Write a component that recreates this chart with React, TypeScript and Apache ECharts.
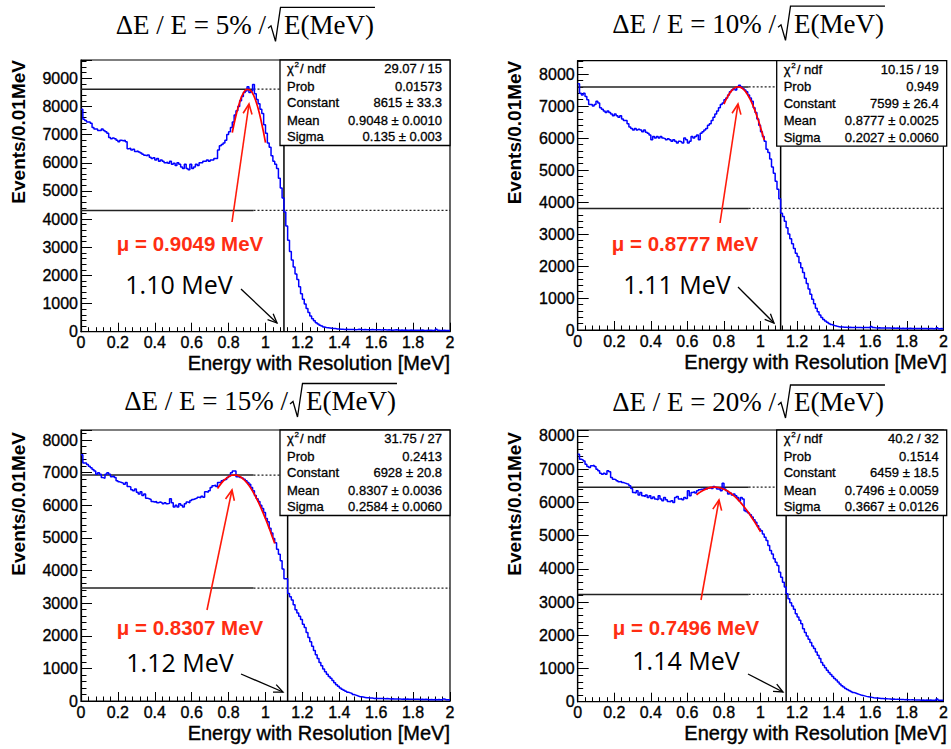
import React, { useEffect, useRef } from "react";
import * as echarts from "echarts";

const binWidth = 0.01;

// Histogram contents, 200 bins of 0.01 MeV from 0 to 2 MeV
const hist5 = [
  7900, 7550, 7500, 7450, 7450, 7400, 7250, 7200, 7200, 7150,
  7150, 7200, 7150, 7100, 7050, 6900, 6850, 6880, 6850, 6800,
  6750, 6800, 6780, 6800, 6750, 6500, 6520, 6450, 6480, 6400,
  6420, 6380, 6350, 6300, 6270, 6250, 6280, 6200, 6150, 6180,
  6100, 6150, 6050, 6100, 6050, 6000, 6020, 5980, 6050, 5950,
  5980, 5900, 6000, 5950, 5850, 5800, 5950, 5800, 5750, 5950,
  5800, 5850, 5950, 5900, 6000, 6000, 6050, 6050, 6100, 6050,
  6100, 6100, 6150, 6150, 6450, 6600, 6650, 6700, 6800, 7000,
  7100, 7250, 7450, 7700, 7850, 8000, 8200, 8350, 8500, 8550,
  8700, 8500, 8550, 8780, 8450, 8250, 8100, 7900, 7750, 7350,
  7050, 6700, 6550, 6250, 6050, 5950, 5800, 5450, 5100, 4750,
  4250, 3750, 3250, 2850, 2550, 2300, 2050, 1850, 1600, 1350,
  1150, 980, 820, 680, 560, 460, 390, 320, 270, 230,
  200, 170, 150, 140, 130, 120, 115, 110, 100, 95,
  90, 85, 80, 85, 80, 75, 80, 75, 70, 75,
  90, 80, 70, 75, 70, 65, 70, 75, 70, 65,
  70, 65, 60, 65, 70, 60, 65, 60, 55, 60,
  65, 60, 55, 60, 55, 60, 50, 55, 60, 55,
  50, 55, 50, 55, 60, 50, 45, 50, 55, 50,
  45, 50, 90, 50, 45, 40, 50, 45, 40, 45,
];
const hist10 = [
  7700, 7400, 7350, 7400, 7300, 7200, 7050, 7050, 7000, 7050,
  7150, 7100, 6950, 6900, 6850, 6800, 6850, 6800, 6750, 6700,
  6750, 6700, 6650, 6700, 6600, 6550, 6550, 6450, 6350, 6300,
  6250, 6300, 6250, 6280, 6250, 6200, 6250, 6180, 6150, 6100,
  5950, 6050, 6000, 6050, 6000, 6050, 6000, 5980, 5950, 5980,
  5950, 5900, 5950, 5900, 5850, 5900, 5880, 5850, 6000, 5950,
  5850, 5900, 6050, 6000, 6050, 6100, 5950, 6150, 6200, 6250,
  6300, 6400, 6450, 6550, 6650, 6750, 6850, 6950, 7050, 7100,
  7200, 7250, 7350, 7450, 7500, 7550, 7500, 7600, 7650, 7600,
  7550, 7500, 7450, 7350, 7250, 7150, 6950, 6800, 6600, 6400,
  6200, 6050, 5900, 5650, 5550, 5350, 5100, 4900, 4650, 4400,
  4100, 3650, 3550, 3400, 3200, 3000, 2850, 2700, 2550, 2400,
  2300, 2100, 1950, 1800, 1620, 1450, 1280, 1120, 960, 820,
  680, 570, 470, 390, 330, 280, 240, 200, 170, 150,
  130, 115, 105, 95, 90, 85, 85, 80, 85, 80,
  75, 80, 75, 80, 75, 70, 75, 80, 75, 70,
  110, 80, 70, 65, 70, 65, 60, 65, 60, 65,
  60, 55, 60, 55, 60, 55, 50, 55, 50, 55,
  50, 55, 50, 45, 50, 45, 50, 45, 50, 45,
  45, 40, 50, 45, 40, 45, 70, 40, 45, 40,
];
const hist15 = [
  7550, 7300, 7300, 7250, 7200, 7150, 7100, 7050, 6950, 7000,
  6950, 6850, 6830, 6950, 7000, 6950, 6880, 6900, 6850, 6750,
  6720, 6700, 6680, 6650, 6700, 6580, 6560, 6480, 6450, 6500,
  6400, 6350, 6420, 6300, 6350, 6220, 6200, 6180, 6120, 6100,
  6120, 6080, 6100, 6080, 6050, 6080, 6050, 6060, 6200, 6080,
  5950, 6000, 5950, 6050, 6000, 5950, 6050, 6100, 6080, 6150,
  6180, 6200, 6220, 6250, 6230, 6280, 6250, 6420, 6400, 6450,
  6550, 6600, 6620, 6580, 6700, 6700, 6750, 6780, 6800, 6850,
  6900, 7000, 7050, 7050, 6880, 6880, 6850, 6830, 6800, 6750,
  6700, 6650, 6550, 6450, 6300, 6200, 6120, 6000, 5900, 5780,
  5600, 5500, 5300, 5150, 4980, 4850, 4650, 4500, 4300, 4050,
  3750, 3750, 3300, 3200, 3100, 2950, 2800, 2700, 2600, 2500,
  2350, 2250, 2100, 1950, 1820, 1680, 1550, 1420, 1300, 1180,
  1080, 980, 900, 820, 750, 700, 630, 560, 500, 450,
  400, 360, 330, 300, 270, 250, 230, 200, 180, 160,
  140, 130, 120, 110, 100, 100, 90, 90, 80, 85,
  80, 75, 80, 75, 70, 75, 70, 65, 70, 65,
  60, 65, 60, 55, 60, 55, 60, 55, 50, 55,
  50, 55, 50, 45, 50, 45, 50, 45, 40, 45,
  40, 45, 40, 45, 40, 35, 60, 40, 35, 40,
];
const hist20 = [
  7450, 7300, 7280, 7250, 7150, 7080, 7050, 7100, 7120, 7080,
  7000, 6950, 6880, 6850, 6880, 6850, 6950, 6920, 6750, 6700,
  6680, 6650, 6620, 6630, 6600, 6580, 6560, 6550, 6500, 6420,
  6300, 6280, 6350, 6220, 6300, 6200, 6180, 6220, 6150, 6200,
  6120, 6160, 6100, 6080, 6200, 6100, 6050, 6150, 6080, 6030,
  6020, 6050, 6000, 6150, 6180, 6100, 6120, 6080, 6150, 6120,
  6350, 6200, 6300, 6320, 6280, 6350, 6380, 6400, 6380, 6420,
  6400, 6430, 6450, 6420, 6480, 6450, 6400, 6420, 6350, 6580,
  6400, 6350, 6250, 6280, 6220, 6250, 6200, 6150, 6050, 6150,
  6100, 5750, 5720, 5680, 5630, 5560, 5480, 5400, 5300, 5200,
  5150, 5050, 4950, 4850, 4700, 4550, 4450, 4300, 4200, 4100,
  3900, 3750, 3600, 3450, 3250, 3100, 2980, 2880, 2780, 2650,
  2550, 2450, 2350, 2200, 2080, 1980, 1880, 1780, 1680, 1600,
  1500, 1400, 1300, 1180, 1100, 1020, 950, 880, 820, 760,
  700, 650, 590, 530, 480, 440, 400, 370, 340, 310,
  280, 260, 240, 220, 200, 190, 175, 160, 150, 140,
  130, 120, 115, 110, 105, 100, 95, 90, 90, 85,
  80, 75, 80, 70, 75, 70, 65, 70, 60, 65,
  60, 55, 60, 55, 50, 55, 50, 45, 50, 45,
  50, 45, 50, 45, 40, 45, 80, 45, 40, 45,
];

// Gaussian fit curves (red)
const fitX5 = [0.82, 0.84, 0.86, 0.88, 0.9, 0.92, 0.94, 0.96, 0.98, 1.0];
const fitY5 = [7073, 7678, 8153, 8471, 8610, 8561, 8327, 7924, 7377, 6718];
const fitX10 = [0.8, 0.82, 0.84, 0.86, 0.88, 0.9, 0.92, 0.94, 0.96, 0.98, 1.0, 1.02];
const fitY10 = [7061, 7297, 7469, 7570, 7599, 7553, 7436, 7249, 6998, 6690, 6335, 5939];
const fitX15 = [0.74, 0.76, 0.78, 0.8, 0.82, 0.84, 0.86, 0.88, 0.9, 0.92, 0.94, 0.96, 0.98, 1.0, 1.02, 1.04, 1.05];
const fitY15 = [6514, 6674, 6796, 6879, 6922, 6924, 6884, 6803, 6683, 6527, 6335, 6113, 5863, 5589, 5298, 4990, 4833];
const fitX20 = [0.65, 0.67, 0.69, 0.71, 0.73, 0.75, 0.77, 0.79, 0.81, 0.83, 0.85, 0.87, 0.89, 0.91, 0.93, 0.95, 0.97, 0.99, 1.0];
const fitY20 = [6225, 6309, 6374, 6421, 6450, 6459, 6449, 6420, 6372, 6306, 6221, 6120, 6002, 5870, 5723, 5563, 5392, 5210, 5116];

const resolutions = ["5%", "10%", "15%", "20%"];
const fitConstants = [8615, 7599, 6928, 6459];
const halfMaxima = [4307, 3800, 3464, 3230];
const edgeEnergies = [1.1, 1.11, 1.12, 1.14];
const edgeLabels = ["1.10 MeV", "1.11 MeV", "1.12 MeV", "1.14 MeV"];
const meanLabels = ["μ = 0.9049 MeV", "μ = 0.8777 MeV", "μ = 0.8307 MeV", "μ = 0.7496 MeV"];
const yMaxima = [9650, 8420, 8310, 8180];
const xTickInterval = 0.2;
const yTickInterval = 1000;
const solidLineEnd = 0.935;

const statNames = ["Prob", "Constant", "Mean", "Sigma"];
const statChi2 = ["29.07 / 15", "10.15 / 19", "31.75 / 27", "40.2 / 32"];
const statProb = ["0.01573", "0.949", "0.2413", "0.1514"];
const statConst = ["8615 ± 33.3", "7599 ± 26.4", "6928 ± 20.8", "6459 ± 18.5"];
const statMean = ["0.9048 ± 0.0010", "0.8777 ± 0.0025", "0.8307 ± 0.0036", "0.7496 ± 0.0059"];
const statSigma = ["0.135 ± 0.003", "0.2027 ± 0.0060", "0.2584 ± 0.0060", "0.3667 ± 0.0126"];

const hists = [hist5, hist10, hist15, hist20];
const fitXs = [fitX5, fitX10, fitX15, fitX20];
const fitYs = [fitY5, fitY10, fitY15, fitY20];

// Layout (pixels)
const GRID_W = 369;
const grids = [
  { left: 81, top: 60, height: 271.7 },
  { left: 577.7, top: 60.7, height: 269.3 },
  { left: 81, top: 430, height: 271 },
  { left: 577.7, top: 430, height: 271.7 },
];
const STAT_W = 170;
const STAT_H = 85.5;
const titleRad = [
  { xr: 268, yb: 34.3, yo: 7.3 },
  { xr: 778, yb: 33.3, yo: 6.2 },
  { xr: 290, yb: 410, yo: 383.5 },
  { xr: 778, yb: 411, yo: 385 },
];
const redArrows = [
  [232, 222, 249, 104],
  [720, 223, 738, 104],
  [207, 610, 232, 490],
  [701, 600, 719, 500],
];
const redTextPos = [[190, 243], [685, 243], [190, 627], [686, 627]];
const blackTextPos = [[179, 284], [677, 284], [180, 662], [686, 660]];
const blackArrows = [
  [241, 289, 277, 323],
  [738, 287, 774, 323],
  [241, 674, 283, 692],
  [748, 674, 783, 692],
];

const SANS = "'Liberation Sans', Arial, Helvetica, sans-serif";
const SERIF = "'Liberation Serif', 'Times New Roman', serif";
const NOTE = "'Open Sans', 'Noto Sans', sans-serif";

function arrow(x1: number, y1: number, x2: number, y2: number, color: string, w: number, L: number) {
  const a = Math.atan2(y2 - y1, x2 - x1);
  const s = 0.42;
  const p1 = [x2 - L * Math.cos(a - s), y2 - L * Math.sin(a - s)];
  const p2 = [x2 - L * Math.cos(a + s), y2 - L * Math.sin(a + s)];
  return [
    { type: "line", z: 20, shape: { x1, y1, x2, y2 }, style: { stroke: color, lineWidth: w } },
    { type: "polyline", z: 20, shape: { points: [p1, [x2, y2], p2] }, style: { stroke: color, lineWidth: w, fill: null } },
  ];
}

export default function App() {
  const ref = useRef<HTMLDivElement>(null);
  useEffect(() => {
    document.body.style.margin = "0";
    if (!ref.current) return;
    const chart = echarts.init(ref.current, undefined, { renderer: "svg" });

    const canvas = document.createElement("canvas");
    const ctx = canvas.getContext("2d");
    const measure = (t: string, font: string) => {
      if (!ctx) return t.length * 14;
      ctx.font = font;
      return ctx.measureText(t).width;
    };

    const heavy = { textBorderColor: "#000", textBorderWidth: 0.35 };

    const gridOpts: any[] = [];
    const xAxes: any[] = [];
    const yAxes: any[] = [];
    const series: any[] = [];
    const graphic: any[] = [];

    grids.forEach((g, i) => {
      gridOpts.push({
        left: g.left, top: g.top, width: GRID_W, height: g.height,
        show: true, borderColor: "#000", borderWidth: 1.2, backgroundColor: "transparent",
      });
      xAxes.push({
        type: "value", gridIndex: i, min: 0, max: 2, interval: xTickInterval,
        axisLine: { show: true, onZero: false, lineStyle: { color: "#000", width: 1.2 } },
        axisTick: { show: true, inside: true, length: 9, lineStyle: { color: "#000", width: 1 } },
        minorTick: { show: true, splitNumber: 5, length: 4.5, lineStyle: { color: "#000", width: 1 } },
        axisLabel: { color: "#000", fontSize: 16, fontFamily: SANS, margin: 3, ...heavy, formatter: (v: number) => String(v) },
        splitLine: { show: false },
      });
      yAxes.push({
        type: "value", gridIndex: i, min: 0, max: yMaxima[i], interval: yTickInterval,
        axisLine: { show: true, lineStyle: { color: "#000", width: 1.2 } },
        axisTick: { show: true, inside: true, length: 11, lineStyle: { color: "#000", width: 1 } },
        minorTick: { show: true, splitNumber: 5, length: 5.5, lineStyle: { color: "#000", width: 1 } },
        axisLabel: { color: "#000", fontSize: 16, fontFamily: SANS, margin: 3, showMaxLabel: false, ...heavy, formatter: (v: number) => String(v) },
        splitLine: { show: false },
      });

      const h = hists[i];
      const histData = h.map((v, k) => [k * binWidth, v]);
      histData.push([h.length * binWidth, h[h.length - 1]]);
      const boxLeftE = ((GRID_W - STAT_W) / GRID_W) * 2;
      const C = fitConstants[i];
      const H = halfMaxima[i];
      const E = edgeEnergies[i];
      const common = { xAxisIndex: i, yAxisIndex: i, symbol: "none", silent: true, animation: false };
      series.push({ ...common, type: "line", step: "end", data: histData, lineStyle: { color: "#0000ff", width: 1.5 }, z: 3 });
      series.push({ ...common, type: "line", smooth: true, data: fitXs[i].map((x, k) => [x, fitYs[i][k]]), lineStyle: { color: "#ff0000", width: 1.7 }, z: 4 });
      series.push({ ...common, type: "line", data: [[0, C], [solidLineEnd, C]], lineStyle: { color: "#222", width: 1.5 }, z: 2 });
      series.push({ ...common, type: "line", data: [[solidLineEnd, C], [boxLeftE, C]], lineStyle: { color: "#222", width: 1.2, type: [2, 2] }, z: 2 });
      series.push({ ...common, type: "line", data: [[0, H], [solidLineEnd, H]], lineStyle: { color: "#222", width: 1.5 }, z: 2 });
      series.push({ ...common, type: "line", data: [[solidLineEnd, H], [2, H]], lineStyle: { color: "#222", width: 1.2, type: [2, 2] }, z: 2 });
      series.push({ ...common, type: "line", data: [[E, 0], [E, yMaxima[i]]], lineStyle: { color: "#000", width: 1.5 }, z: 2 });

      // stat box
      const bx = g.left + GRID_W - STAT_W;
      const by = g.top;
      graphic.push({ type: "rect", z: 10, shape: { x: bx, y: by, width: STAT_W, height: STAT_H }, style: { fill: "#fff", stroke: "#000", lineWidth: 1.3 } });
      const rowY = [8.5, 26, 42.5, 60, 76.5];
      const statFont = { fontFamily: SANS, fontSize: 13, fill: "#000", stroke: "#000", lineWidth: 0.3 };
      graphic.push({ type: "text", z: 11, x: bx + 7, y: by + rowY[0], style: { ...statFont, text: "χ", verticalAlign: "middle" } });
      graphic.push({ type: "text", z: 11, x: bx + 14.5, y: by + rowY[0] - 4, style: { ...statFont, fontSize: 8, text: "2", verticalAlign: "middle" } });
      graphic.push({ type: "text", z: 11, x: bx + 20, y: by + rowY[0], style: { ...statFont, text: "/ ndf", verticalAlign: "middle" } });
      const vals = [statChi2[i], statProb[i], statConst[i], statMean[i], statSigma[i]];
      statNames.forEach((n, k) => {
        graphic.push({ type: "text", z: 11, x: bx + 7, y: by + rowY[k + 1], style: { ...statFont, text: n, verticalAlign: "middle" } });
      });
      vals.forEach((v, k) => {
        graphic.push({ type: "text", z: 11, x: bx + STAT_W - 8, y: by + rowY[k], style: { ...statFont, text: v, align: "right", verticalAlign: "middle" } });
      });

      // axis titles
      graphic.push({
        type: "text", z: 11, x: g.left - 63, y: g.top + (i >= 2 ? 2 : 0), rotation: Math.PI / 2,
        style: { text: "Events/0.01MeV", fontFamily: SANS, fontWeight: "bold", fontSize: 19, fill: "#000", align: "right", verticalAlign: "middle" },
      });
      graphic.push({
        type: "text", z: 11, x: g.left + GRID_W, y: g.top + g.height + 31.5,
        style: { text: "Energy with Resolution [MeV]", fontFamily: SANS, fontSize: 20, fill: "#000", stroke: "#000", lineWidth: 0.4, align: "right", verticalAlign: "middle" },
      });

      // title
      const t = titleRad[i];
      const titleFont = `27px ${SERIF}`;
      graphic.push({
        type: "text", z: 11, x: t.xr - 2, y: t.yb - 9.5,
        style: { text: `ΔE / E = ${resolutions[i]} /`, fontFamily: SERIF, fontSize: 27, fill: "#000", align: "right", verticalAlign: "middle" },
      });
      const xB = t.xr + 16;
      const wB = measure("E(MeV)", titleFont);
      graphic.push({
        type: "text", z: 11, x: xB, y: t.yb - 9.5,
        style: { text: "E(MeV)", fontFamily: SERIF, fontSize: 27, fill: "#000", align: "left", verticalAlign: "middle" },
      });
      graphic.push({
        type: "polyline", z: 11,
        shape: { points: [[t.xr, t.yb - 6], [t.xr + 3, t.yb - 8.5], [t.xr + 7.5, t.yb + 7], [t.xr + 12.5, t.yo], [xB + wB + 1, t.yo]] },
        style: { stroke: "#000", lineWidth: 1.3, fill: null },
      });

      // annotations
      const ra = redArrows[i];
      graphic.push(...arrow(ra[0], ra[1], ra[2], ra[3], "#ff1a0a", 1.6, 11));
      graphic.push({
        type: "text", z: 21, x: redTextPos[i][0], y: redTextPos[i][1],
        style: { text: meanLabels[i], fontFamily: SANS, fontWeight: "bold", fontSize: 20.5, fill: "#ff2d12", align: "center", verticalAlign: "middle" },
      });
      const ba = blackArrows[i];
      graphic.push(...arrow(ba[0], ba[1], ba[2], ba[3], "#000", 1.3, 10));
      graphic.push({
        type: "text", z: 21, x: blackTextPos[i][0], y: blackTextPos[i][1],
        style: { text: edgeLabels[i], fontFamily: NOTE, fontSize: 25, fill: "#000", align: "center", verticalAlign: "middle" },
      });
    });

    chart.setOption({
      animation: false,
      backgroundColor: "#fff",
      grid: gridOpts,
      xAxis: xAxes,
      yAxis: yAxes,
      series,
      graphic: { elements: graphic },
    });
    return () => chart.dispose();
  }, []);
  return <div ref={ref} style={{ width: 951, height: 749 }} />;
}
